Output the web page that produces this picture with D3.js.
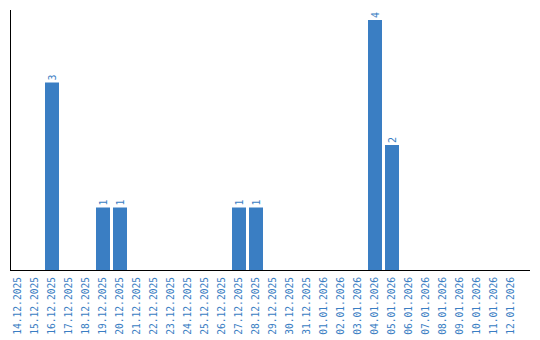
<!DOCTYPE html>
<html>
<head>
<meta charset="utf-8">
<script src="https://cdn.jsdelivr.net/npm/d3@7"></script>
<style>
  body { margin: 0; background: #fff; }
  svg text { font-family: "DejaVu Sans Mono", monospace; }
</style>
</head>
<body>
<svg id="chart" width="540" height="340"></svg>
<script>
// data
var dates = ['14.12.2025','15.12.2025','16.12.2025','17.12.2025','18.12.2025','19.12.2025',
  '20.12.2025','21.12.2025','22.12.2025','23.12.2025','24.12.2025','25.12.2025','26.12.2025',
  '27.12.2025','28.12.2025','29.12.2025','30.12.2025','31.12.2025','01.01.2026','02.01.2026',
  '03.01.2026','04.01.2026','05.01.2026','06.01.2026','07.01.2026','08.01.2026','09.01.2026',
  '10.01.2026','11.01.2026','12.01.2026'];
var counts = [0,0,3,0,0,1,1,0,0,0,0,0,0,1,1,0,0,0,0,0,0,4,2,0,0,0,0,0,0,0];

var blue = '#3a7ec3';
var svg = d3.select('#chart');

// only days with something to show
var rows = dates.map(function(d, i){ return { date: d, value: counts[i] }; })
  .filter(function(r){ return r.value > 0; });

// band step 17px, bar 14px
var x = d3.scaleBand()
  .domain(dates)
  .range([9.5, 519.5])
  .paddingInner(3 / 17)
  .paddingOuter(1.5 / 17);

var y = d3.scaleLinear().domain([0, 4]).range([270, 20]);

// bars
svg.selectAll('rect.bar')
  .data(rows)
  .enter().append('rect')
  .attr('class', 'bar')
  .attr('x', function(d){ return x(d.date); })
  .attr('y', function(d){ return y(d.value); })
  .attr('width', x.bandwidth())
  .attr('height', function(d){ return y(0) - y(d.value); })
  .attr('fill', blue);

// value labels
svg.selectAll('text.val')
  .data(rows)
  .enter().append('text')
  .attr('class', 'val')
  .attr('transform', function(d){
    return 'translate(' + (x(d.date) + x.bandwidth() / 2 + 3.5) + ',' + (y(d.value) - 2) + ') rotate(-90)';
  })
  .attr('fill', blue)
  .attr('font-size', '10px')
  .text(function(d){ return d.value; });

// x axis
var xAxis = d3.axisBottom(x).tickSize(0).tickPadding(0);
var gx = svg.append('g').attr('transform', 'translate(0,270)').call(xAxis);
gx.select('.domain').remove();
gx.selectAll('text')
  .attr('fill', blue)
  .attr('font-size', '9.6px')
  .attr('font-family', '"DejaVu Sans Mono", monospace')
  .attr('text-anchor', 'end')
  .attr('dy', '0.35em')
  .attr('transform', 'translate(0,7) rotate(-90)')
  .attr('x', 0)
  .attr('y', 0);

// axis lines
svg.append('line')
  .attr('x1', 10).attr('x2', 530).attr('y1', 270.5).attr('y2', 270.5)
  .attr('stroke', '#000').attr('stroke-width', 1);
svg.append('line')
  .attr('x1', 10.5).attr('x2', 10.5).attr('y1', 10).attr('y2', 271)
  .attr('stroke', '#000').attr('stroke-width', 1);
</script>
</body>
</html>
